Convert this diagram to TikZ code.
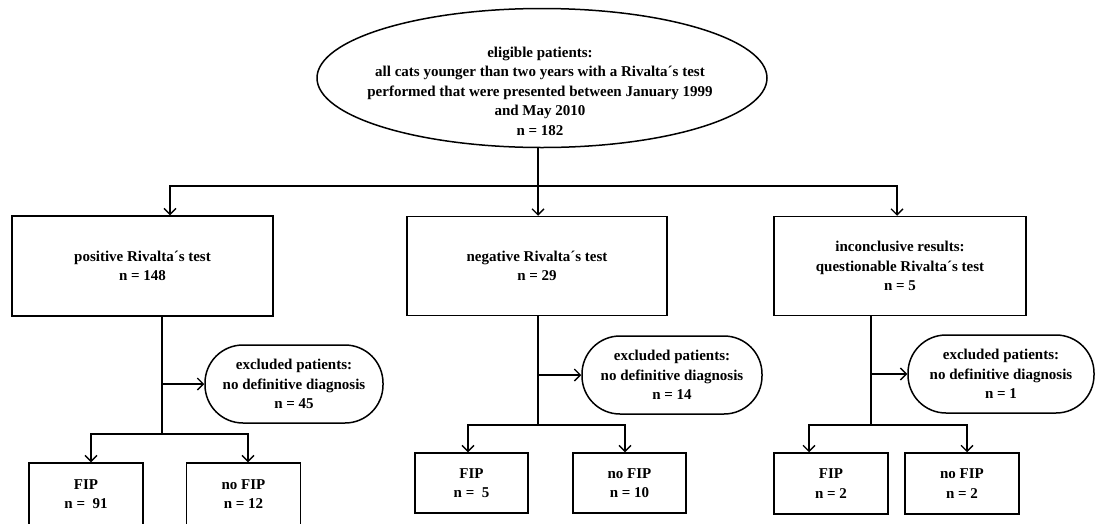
\documentclass[tikz,border=0pt]{standalone}
\usepackage{fontspec}
\setmainfont{Liberation Serif}
\usetikzlibrary{shapes.geometric,arrows.meta}
\tikzset{
	every node/.style = {font=\bfseries\fontsize{15}{19.5}\selectfont, align=center},
	box/.style = {draw, line width=1.5pt, minimum width=#1, inner sep=0pt},
	excl/.style = {draw, line width=1.5pt, rounded corners=38pt, minimum width=#1, minimum height=78pt, inner sep=0pt},
	arr/.style = {line width=1.5pt, -{Straight Barb[length=6pt,width=12pt,line width=1.3pt]}},
	ln/.style = {line width=1.5pt}
}
\begin{document}
\begin{tikzpicture}[x=1pt, y=-1pt]
	\useasboundingbox (0,0) rectangle (1097,523);
	% top
	\node [ellipse, draw, line width=1.5pt, minimum width=450pt, minimum height=139pt, inner sep=0pt] (root) at (542,78) {};
	\node (roottxt) at (540,91) {eligible patients:\\all cats younger than two years with a Rivalta´s test\\performed that were presented between January 1999\\and May 2010\\n = 182};
	\coordinate (split) at (538,186);
	% tests
	\node [box=261pt, minimum height=100pt] (pos) at (142.5,266) {positive Rivalta´s test\\n = 148};
	\node [box=260pt, minimum height=99pt] (neg) at (537,266) {negative Rivalta´s test\\n = 29};
	\node [box=252pt, minimum height=99pt] (inc) at (900,266) {inconclusive results:\\questionable Rivalta´s test\\n = 5};
	% excluded
	\node [excl=178pt] (ex1) at (294,384) {excluded patients:\\no definitive diagnosis\\n = 45};
	\node [excl=180pt] (ex2) at (672,375) {excluded patients:\\no definitive diagnosis\\n = 14};
	\node [excl=186pt] (ex3) at (1001,374) {excluded patients:\\no definitive diagnosis\\n = 1};
	% outcomes
	\node [box=114pt, minimum height=62pt] (fip1) at (86,494) {FIP\\n =\ \ 91};
	\node [box=114pt, minimum height=62pt] (nofip1) at (243.5,494) {no FIP\\n = 12};
	\node [box=113pt, minimum height=60pt] (fip2) at (471.5,483) {FIP\\n =\ \ 5};
	\node [box=113pt, minimum height=60pt] (nofip2) at (629.5,483) {no FIP\\n = 10};
	\node [box=114pt, minimum height=61pt] (fip3) at (831,483.5) {FIP\\n = 2};
	\node [box=114pt, minimum height=61pt] (nofip3) at (962,483.5) {no FIP\\n = 2};
	\coordinate (b1) at (162,434);
	\coordinate (b2) at (538,425);
	\coordinate (b3) at (871,425);
	% connectors
	\draw [ln] (root.south -| split) -- (split);
	\draw [arr] (split) -| ([xshift=27.5pt]pos.north);
	\draw [arr] (split) -- (split |- neg.north);
	\draw [arr] (split) -| ([xshift=-3pt]inc.north);
	\draw [ln] (b1 |- pos.south) -- (b1);
	\draw [ln] (b2 |- neg.south) -- (b2);
	\draw [ln] (b3 |- inc.south) -- (b3);
	\draw [arr] (b1 |- ex1.west) -- (ex1.west);
	\draw [arr] (b2 |- ex2.west) -- (ex2.west);
	\draw [arr] (b3 |- ex3.west) -- (ex3.west);
	\draw [arr] (b1) -| ([xshift=5pt]fip1.north);
	\draw [arr] (b1) -| ([xshift=4.5pt]nofip1.north);
	\draw [arr] (b2) -| ([xshift=-3.5pt]fip2.north);
	\draw [arr] (b2) -| ([xshift=-4.5pt]nofip2.north);
	\draw [arr] (b3) -| ([xshift=-22pt]fip3.north);
	\draw [arr] (b3) -| ([xshift=5pt]nofip3.north);
\end{tikzpicture}
\end{document}
